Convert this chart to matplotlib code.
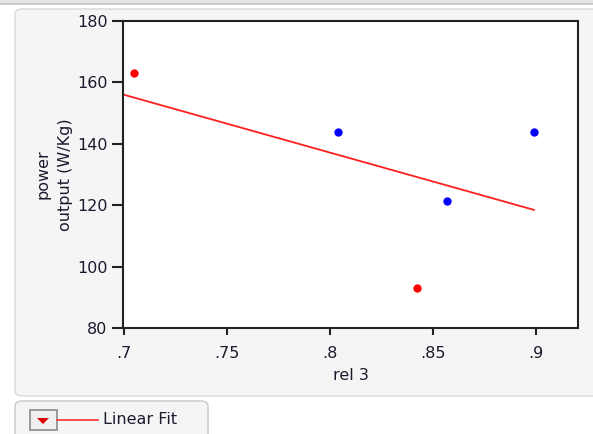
import numpy as np
import matplotlib
matplotlib.use("Agg")
import matplotlib.pyplot as plt
from matplotlib.patches import FancyBboxPatch, Rectangle, Polygon

# data
rel3_red = [0.705, 0.842]
power_red = [163, 93]
rel3_blue = [0.804, 0.857, 0.899]
power_blue = [144, 121.5, 144]
xticks = [0.7, 0.75, 0.8, 0.85, 0.9]
xtick_labels = [".7", ".75", ".8", ".85", ".9"]
yticks = [80, 100, 120, 140, 160, 180]

W, H = 593, 434
fig = plt.figure(figsize=(W / 100, H / 100), dpi=100)
fig.patch.set_facecolor("white")

def fx(px):
    return px / W

def fy(py):
    return 1 - py / H

Z = -10
# top strip
fig.patches.append(Rectangle((0, fy(4)), 1, 4 / H, transform=fig.transFigure,
                             facecolor="#e4e4e4", edgecolor="none", zorder=Z))
fig.patches.append(Rectangle((0, fy(5)), 1, 1.5 / H, transform=fig.transFigure,
                             facecolor="#c8c8c8", edgecolor="none", zorder=Z))
# main panel
fig.patches.append(FancyBboxPatch((fx(15), fy(396)), fx(593 - 15 + 10), (396 - 9) / H,
                                  boxstyle="round,pad=0,rounding_size=0.012",
                                  transform=fig.transFigure,
                                  facecolor="#f5f5f5", edgecolor="#d8d8d8", lw=1, zorder=Z))
# legend panel
fig.patches.append(FancyBboxPatch((fx(15), fy(440)), fx(208 - 15), (440 - 401) / H,
                                  boxstyle="round,pad=0,rounding_size=0.012",
                                  transform=fig.transFigure,
                                  facecolor="#f5f5f5", edgecolor="#c8c8c8", lw=1, zorder=Z))
# legend icon box
fig.patches.append(Rectangle((fx(30), fy(430)), fx(27), 20 / H, transform=fig.transFigure,
                             facecolor="#f0f0f0", edgecolor="#8a8a8a", lw=1.2))
fig.patches.append(Polygon([(fx(37), fy(418)), (fx(49), fy(418)), (fx(43), fy(424))],
                           closed=True, transform=fig.transFigure,
                           facecolor="#e00000", edgecolor="none"))
fig.lines.append(plt.Line2D([fx(57), fx(98)], [fy(420), fy(420)], transform=fig.transFigure,
                            color="#ff4040", lw=1.3))
fig.text(fx(103), fy(420), "Linear Fit", fontsize=11.5, color="#1a1a2e", va="center", ha="left")

ax = fig.add_axes([fx(123), fy(328), fx(578 - 123), (328 - 21) / H])
ax.set_zorder(5)
ax.set_facecolor("white")
ax.set_xlim(0.6995, 0.9204)
ax.set_ylim(80, 180)

xs = np.array(rel3_red + rel3_blue)
ys = np.array(power_red + power_blue)
m, b = np.polyfit(xs, ys, 1)
xl = np.array([0.7, xs.max()])
ax.plot(xl, m * xl + b, color="#ff2020", lw=1.3, zorder=2)

ax.plot(rel3_red, power_red, "o", color="#ff0000", ms=6, mec="none", zorder=3)
ax.plot(rel3_blue, power_blue, "o", color="#0000ff", ms=6, mec="none", zorder=3)

ax.set_xticks(xticks)
ax.set_xticklabels(xtick_labels)
ax.set_yticks(yticks)
for s in ax.spines.values():
    s.set_linewidth(1.5)
    s.set_color("#222222")
ax.tick_params(direction="out", width=1.5, labelsize=11.5, colors="#222222",
               labelcolor="#1a1a2e")
ax.tick_params(axis="x", length=5, pad=8)
ax.tick_params(axis="y", length=8, pad=3)
ax.set_xlabel("rel 3", fontsize=11.5, color="#1a1a2e", labelpad=5)
ax.set_ylabel("power\noutput (W/Kg)", fontsize=11.5, color="#1a1a2e",
              linespacing=1.6)
ax.yaxis.set_label_coords((73 - 123) / 455, 0.5)

fig.savefig("out.png", dpi=100, facecolor=fig.get_facecolor())
